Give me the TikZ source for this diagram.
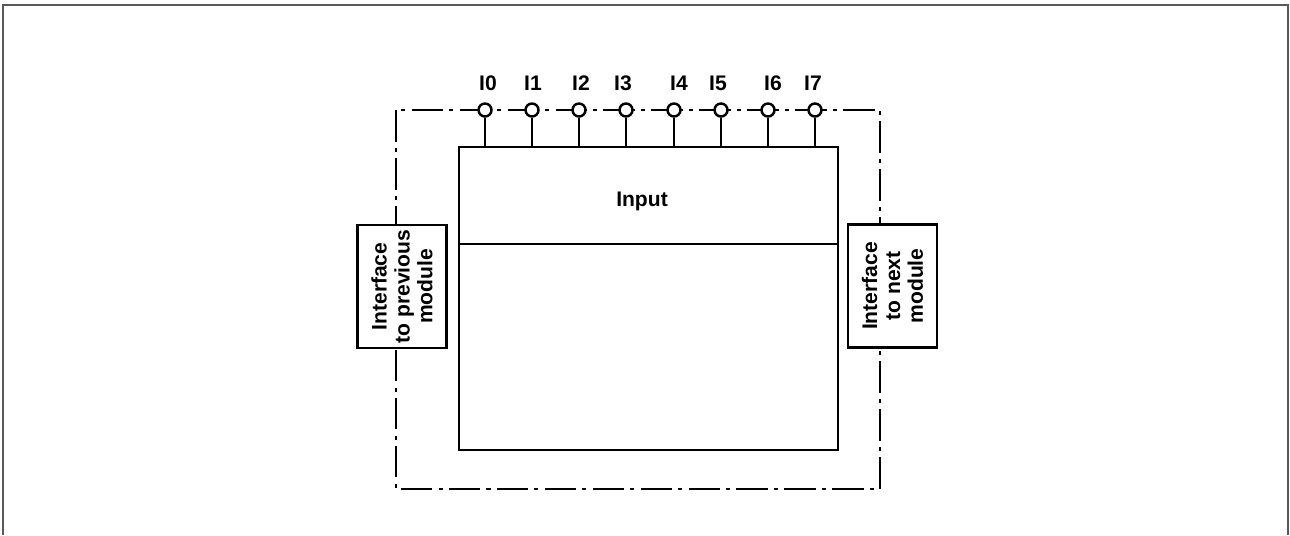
\documentclass[tikz,border=0pt]{standalone}
\usepackage{fontspec}
\setmainfont{Liberation Sans}
\usetikzlibrary{positioning}

\begin{document}
\begin{tikzpicture}[
  x=0.02cm, y=-0.02cm,
  every node/.style={font=\fontsize{12}{13}\selectfont\bfseries, inner sep=0pt},
  block/.style={draw, line width=1.6pt, rectangle},
  port/.style={draw, circle, line width=1.4pt, fill=white, minimum size=0.26cm},
  ifbox/.style={draw, line width=1.5pt, fill=white, rotate=90, align=center,
    minimum width=2.46cm, minimum height=1.78cm},
  housing/.style={draw, line width=1.5pt, dash pattern=on 18pt off 3.5pt on 2.3pt off 3.5pt},
  wire/.style={line width=1.4pt}
]
  \useasboundingbox (0,0) rectangle (1290,535);

  % Page frame
  \draw[black!65, line width=1.2pt] (3,535) -- (3,5) -- (1288,5) -- (1288,535);

  % Housing (dash-dot)
  \coordinate (hnw) at (396,110);
  \coordinate (hse) at (880,489);
  \draw[housing] (hnw) rectangle (hse);

  % Module body
  \node[block, minimum width=7.58cm, minimum height=6.06cm] (main) at (648.5,298.5) {};
  \coordinate (split) at (648,244);
  \draw[wire, line width=1.6pt] (main.west |- split) -- (main.east |- split);
  \node[anchor=base] (input) at (642,206) {Input};

  % Inputs
  \foreach \n/\x/\lx in {0/485/488, 1/532/533, 2/579/581, 3/626/623,
                         4/674/679, 5/721/718, 6/768/773, 7/815/813} {
    \node[port] (p\n) at (\x,110) {};
    \node (l\n) at (\lx,83) {I\n};
    \draw[wire] (p\n) -- (p\n |- main.north);
  }

  % Interfaces
  \node[ifbox] (prev) at (402,286.5) {Interface\\to previous\\module};
  \node[ifbox] (next) at (892.5,286) {Interface\\to next\\module};
\end{tikzpicture}
\end{document}
